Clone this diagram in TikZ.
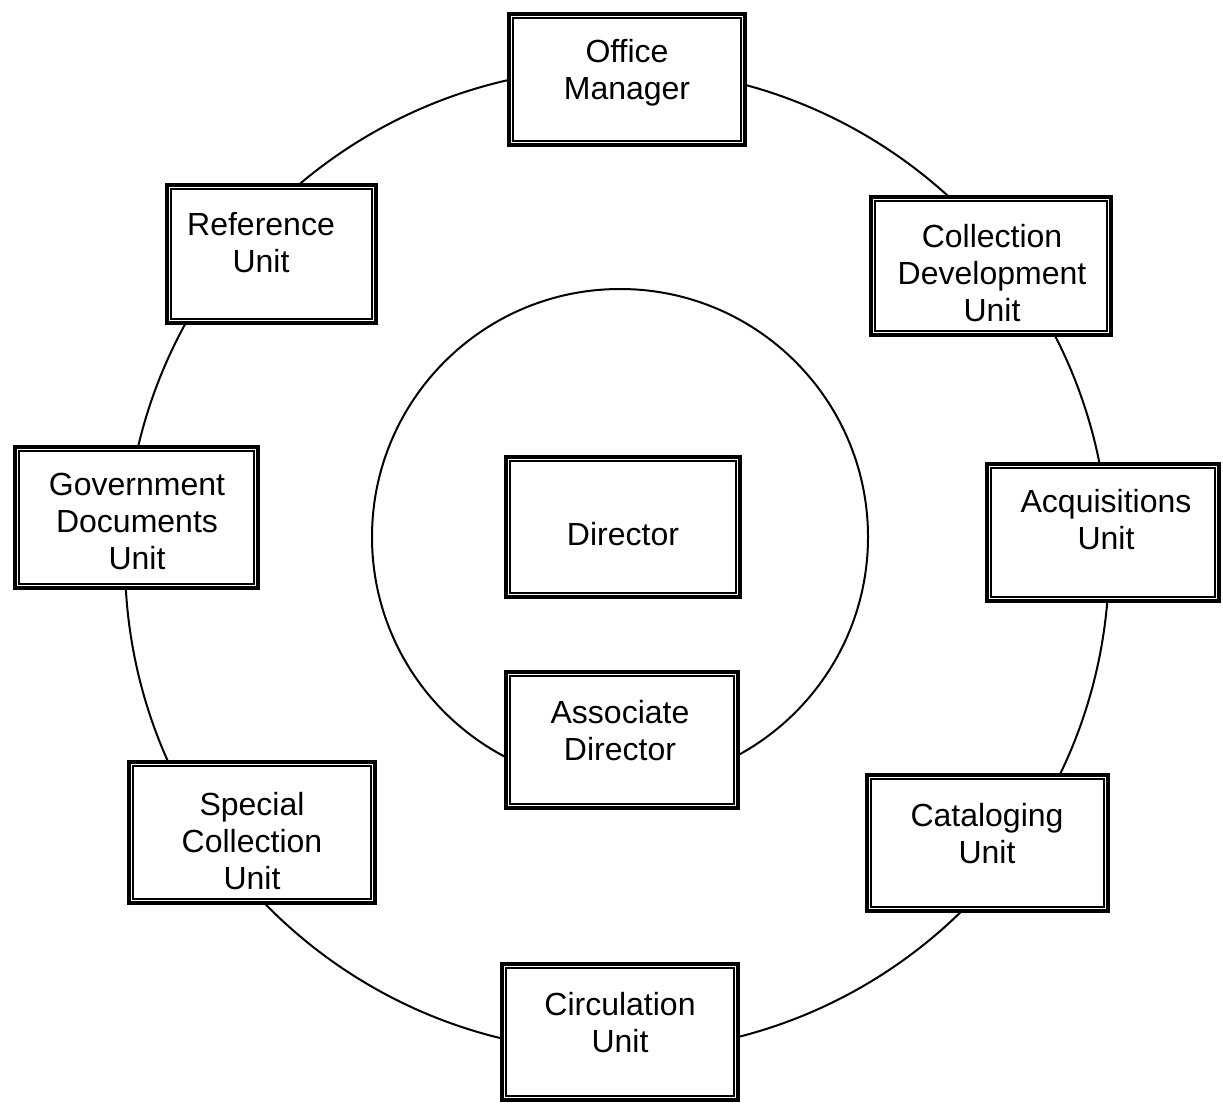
\documentclass[tikz,border=0pt]{standalone}
\usepackage{fontspec}
\setmainfont{Liberation Sans}
\tikzset{
  ubox/.style={draw, line width=3.6pt, fill=white, rectangle, inner sep=0pt},
  innerframe/.style={draw, line width=1.3pt},
  utext/.style={font=\fontsize{32}{37}\selectfont, align=center, inner sep=0pt, anchor=north},
  ring/.style={draw, line width=2pt}
}
% name, x1, y1, x2, y2, text x, first baseline, text
\newcommand\unitbox[8]{%
  \node[ubox, minimum width={#4pt-#2pt-3.6pt}, minimum height={#5pt-#3pt-3.6pt}] (#1) at ({(#2+#4)/2},{(#3+#5)/2}) {};
  \draw[innerframe] ([xshift=6pt,yshift=-6pt]#1.north west) rectangle ([xshift=-6pt,yshift=6pt]#1.south east);
  \node[utext] (#1t) at (#6,{#7-25.9}) {\strut #8};
}
\begin{document}
\begin{tikzpicture}[x=1pt,y=-1pt]
\useasboundingbox (0,0) rectangle (1223,1104);
\path[ring] (617,560) circle[radius=492];
\path[ring] (620,537) circle[radius=248];
\unitbox{om}{507}{12}{747}{147}{627}{62}{Office\\Manager}
\unitbox{ref}{165}{183}{378}{325}{261}{235}{Reference\\Unit}
\unitbox{cdu}{869}{195}{1113}{337}{992}{247}{Collection\\Development\\Unit}
\unitbox{gdu}{13}{445}{260}{590}{137}{495}{Government\\Documents\\Unit}
\unitbox{dir}{504}{455}{742}{599}{623}{545}{Director}
\unitbox{acq}{985}{462}{1221}{603}{1106}{512}{Acquisitions\\Unit}
\unitbox{ass}{504}{670}{740}{810}{620}{723}{Associate\\Director}
\unitbox{spc}{127}{760}{377}{905}{252}{815}{Special\\Collection\\Unit}
\unitbox{cat}{865}{773}{1110}{913}{987}{826}{Cataloging\\Unit}
\unitbox{cir}{500}{962}{740}{1102}{620}{1015}{Circulation\\Unit}
\end{tikzpicture}
\end{document}
